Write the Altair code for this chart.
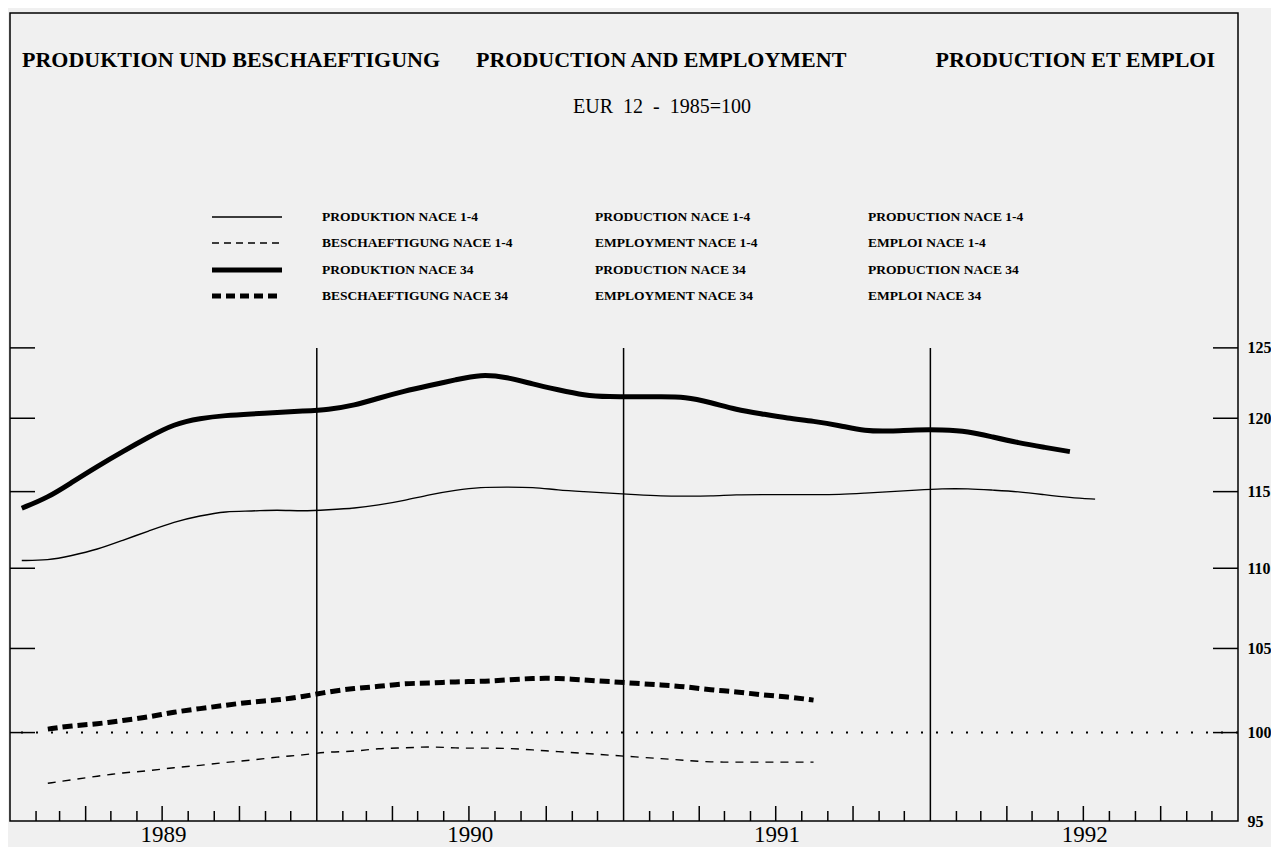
import altair as alt
import pandas as pd

# ---------------- data (EUR 12, 1985=100) ----------------
# monthly values, Jan 1989 - Jul 1992
prod_nace_1_4 = [110.5, 110.5, 110.8, 111.2, 111.8, 112.4, 113.0, 113.4, 113.7, 113.7, 113.8, 113.7,
                 113.8, 113.9, 114.1, 114.4, 114.8, 115.1, 115.3, 115.3, 115.3, 115.1, 115.0, 114.9,
                 114.8, 114.7, 114.7, 114.7, 114.8, 114.8, 114.8, 114.8, 114.8, 114.9, 115.0, 115.1,
                 115.2, 115.2, 115.1, 115.0, 114.8, 114.6, 114.5]
# monthly values, Jan 1989 - Jun 1992
prod_nace_34 = [113.9, 114.6, 115.6, 116.7, 117.7, 118.7, 119.6, 120.0, 120.2, 120.3, 120.4, 120.5,
                120.6, 120.9, 121.4, 121.9, 122.3, 122.7, 123.1, 122.9, 122.4, 122.0, 121.6, 121.5,
                121.5, 121.5, 121.5, 121.1, 120.6, 120.3, 120.0, 119.8, 119.5, 119.1, 119.1, 119.2,
                119.2, 119.1, 118.7, 118.3, 118.0, 117.7]
# monthly values, Feb 1989 - Aug 1991
emp_nace_34 = [100.2, 100.4, 100.5, 100.7, 100.9, 101.2, 101.4, 101.6, 101.8, 101.9, 102.1,
               102.4, 102.6, 102.7, 102.9, 102.9, 103.0, 103.0, 103.1, 103.2, 103.2, 103.1, 103.0,
               102.9, 102.8, 102.7, 102.5, 102.4, 102.2, 102.1, 101.9]
emp_nace_1_4 = [97.1, 97.3, 97.5, 97.7, 97.8, 98.0, 98.1, 98.3, 98.4, 98.6, 98.7,
                98.9, 98.9, 99.1, 99.1, 99.2, 99.1, 99.1, 99.1, 99.0, 98.9, 98.8, 98.7,
                98.6, 98.5, 98.4, 98.3, 98.3, 98.3, 98.3, 98.3]

years = [1989, 1990, 1991, 1992]
y_ticks = [100, 105, 110, 115, 120, 125]
y_labels = [95, 100, 105, 110, 115, 120, 125]

title_de = "PRODUKTION UND BESCHAEFTIGUNG"
title_en = "PRODUCTION AND EMPLOYMENT"
title_fr = "PRODUCTION ET EMPLOI"
subtitle = "EUR\u00a0\u00a012\u00a0\u00a0-\u00a0\u00a01985=100"
legend_de = ["PRODUKTION NACE 1-4", "BESCHAEFTIGUNG NACE 1-4", "PRODUKTION NACE 34", "BESCHAEFTIGUNG NACE 34"]
legend_en = ["PRODUCTION NACE 1-4", "EMPLOYMENT NACE 1-4", "PRODUCTION NACE 34", "EMPLOYMENT NACE 34"]
legend_fr = ["PRODUCTION NACE 1-4", "EMPLOI NACE 1-4", "PRODUCTION NACE 34", "EMPLOI NACE 34"]

# ---------------- tables ----------------
mid_month = pd.date_range("1989-01-01", periods=43, freq="MS") + pd.Timedelta(days=14)
fmt = lambda d: d.strftime("%Y-%m-%dT00:00:00")
dates = [fmt(d) for d in mid_month]

df_p14 = pd.DataFrame({"date": dates[:len(prod_nace_1_4)], "value": prod_nace_1_4})
df_p34 = pd.DataFrame({"date": dates[:len(prod_nace_34)], "value": prod_nace_34})
df_e34 = pd.DataFrame({"date": dates[1:1 + len(emp_nace_34)], "value": emp_nace_34})
df_e14 = pd.DataFrame({"date": dates[1:1 + len(emp_nace_1_4)], "value": emp_nace_1_4})

month_starts = pd.date_range("1989-01-01", "1992-12-01", freq="MS")
short_ticks = pd.DataFrame({"date": [fmt(d) for d in month_starts if d.month not in (1, 4, 7, 10)]})
long_ticks = pd.DataFrame({"date": [fmt(d) for d in month_starts if d.month in (4, 7, 10)]})
year_lines = pd.DataFrame({"date": [f"{y}-01-01T00:00:00" for y in years[1:]], "top": [125] * 3})
ytick_df = pd.DataFrame({"value": y_ticks})
ref_df = pd.DataFrame({"value": [100]})
one = pd.DataFrame({"a": [0]})

W, H = 1228, 808
SERIF = "Liberation Serif"

xscale = alt.Scale(domain=[alt.DateTime(year=1989, month=1, date=1),
                           alt.DateTime(year=1993, month=1, date=1)], nice=False)
yscale = alt.Scale(type="log", domain=[95, 151.8], nice=False)

xaxis = alt.Axis(values=[alt.DateTime(year=y, month=7, date=2) for y in years], format="%Y",
                 ticks=False, domain=False, grid=False, labelFont=SERIF, labelFontSize=23,
                 labelPadding=2, labelColor="black", labelFlush=False, labelOverlap=False)
yaxis = alt.Axis(orient="right", values=y_labels, format="d", ticks=False, domain=False, grid=False,
                 labelFont=SERIF, labelFontSize=16, labelFontWeight="bold", labelPadding=9,
                 labelColor="black", labelFlush=False, labelOverlap=False)


def X(field="date"):
    return alt.X(f"{field}:T", scale=xscale, axis=xaxis, title=None)


def Y(field="value"):
    return alt.Y(f"{field}:Q", scale=yscale, axis=yaxis, title=None)


def series(df, width, dash=None):
    kw = dict(color="black", strokeWidth=width, interpolate="basis", strokeJoin="round")
    if dash:
        kw["strokeDash"] = dash
    return alt.Chart(df).mark_line(**kw).encode(x=X(), y=Y())


lines = [
    series(df_p14, 1.4),
    series(df_e14, 1.4, [8, 7]),
    series(df_p34, 5),
    series(df_e34, 5, [10, 5]),
]

vlines = alt.Chart(year_lines).mark_rule(color="black", strokeWidth=1.5).encode(
    x=X(), y=Y("top"), y2=alt.value(H))
dotted = alt.Chart(ref_df).mark_rule(color="black", strokeWidth=2, strokeDash=[2, 13]).encode(y=Y())
lticks = alt.Chart(ytick_df).mark_rule(color="black", strokeWidth=1.5).encode(
    y=Y(), x=alt.value(0), x2=alt.value(25))
rticks = alt.Chart(ytick_df).mark_rule(color="black", strokeWidth=1.5).encode(
    y=Y(), x=alt.value(W - 25), x2=alt.value(W))
sticks = alt.Chart(short_ticks).mark_rule(color="black", strokeWidth=1.5).encode(
    x=X(), y=alt.value(H), y2=alt.value(H - 10))
bticks = alt.Chart(long_ticks).mark_rule(color="black", strokeWidth=1.5).encode(
    x=X(), y=alt.value(H), y2=alt.value(H - 15))


def label(text, x, y, size, align="left", weight="bold"):
    return alt.Chart(one).mark_text(text=text, align=align, baseline="middle", font=SERIF,
                                    fontSize=size, fontWeight=weight, color="black").encode(
        x=alt.value(x), y=alt.value(y))


texts = [
    label(title_de, 12, 47, 22),
    label(title_en, 466, 47, 22),
    label(title_fr, 1205, 47, 22, align="right"),
    label(subtitle, 652, 94, 20, align="center", weight="normal"),
]

leg_rows = [204, 230, 257, 283]
leg_texts = []
for col, x in ((legend_de, 312), (legend_en, 585), (legend_fr, 858)):
    for txt, yy in zip(col, leg_rows):
        leg_texts.append(label(txt, x, yy, 13.5))

leg_styles = [(1.4, None), (1.4, [7, 5]), (5, None), (5, [9, 5])]
leg_lines = []
for (wdt, dash), yy in zip(leg_styles, leg_rows):
    kw = dict(color="black", strokeWidth=wdt)
    if dash:
        kw["strokeDash"] = dash
    leg_lines.append(alt.Chart(one).mark_rule(**kw).encode(
        x=alt.value(202), x2=alt.value(272), y=alt.value(yy)))

chart = alt.layer(
    dotted, vlines, lticks, rticks, sticks, bticks, *lines, *texts, *leg_texts, *leg_lines
).properties(
    width=W, height=H,
    autosize=alt.AutoSizeParams(type="none"),
    padding={"left": 2, "top": 5, "right": 33, "bottom": 26},
    background="#f0f0f0",
).configure_view(
    stroke="black", strokeWidth=1.5, fill="#f0f0f0"
)

chart.save("out.html", embed_options={"renderer": "svg", "actions": False})
